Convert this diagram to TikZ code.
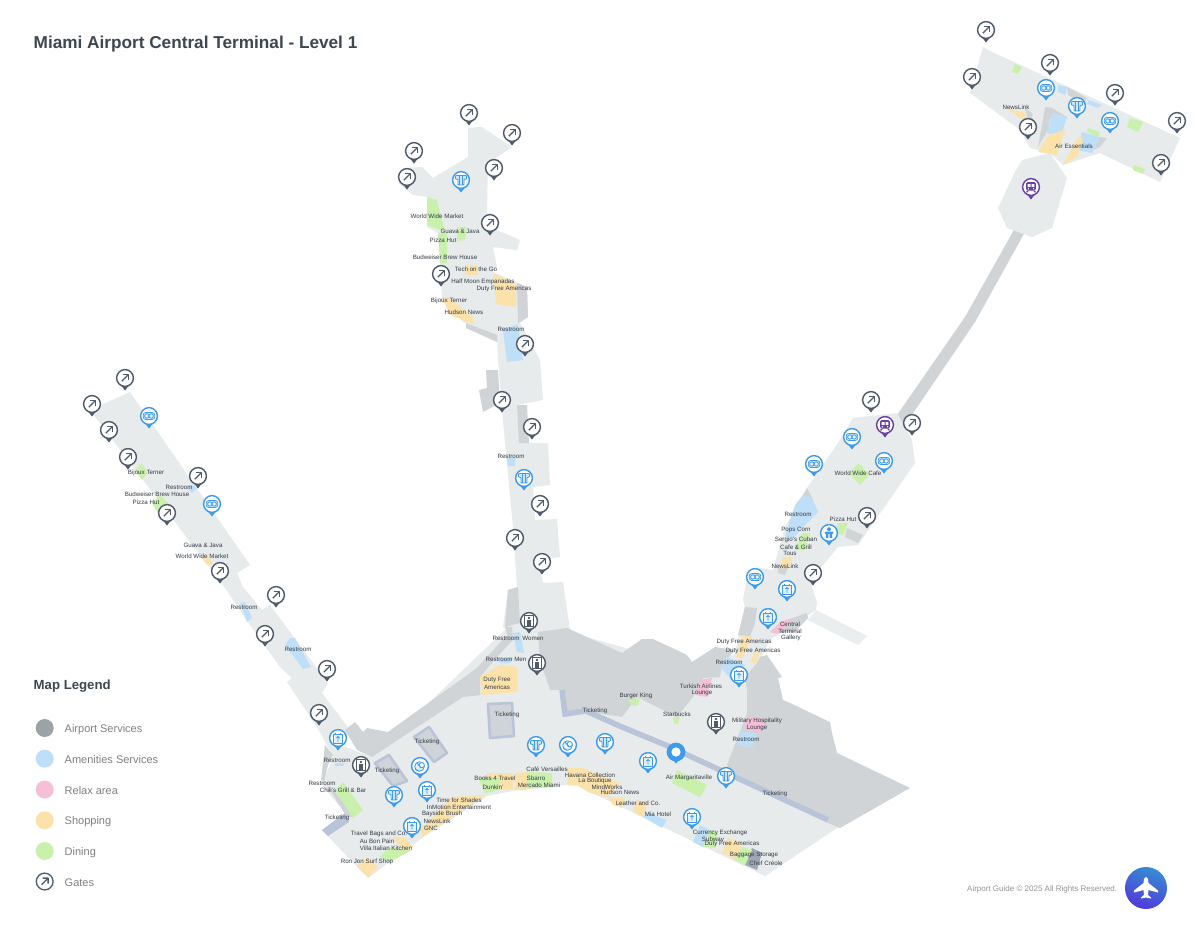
\documentclass[tikz,border=0pt]{standalone}
\usepackage{fontspec}
\setmainfont{Liberation Sans}
\definecolor{floorc}{HTML}{E7EBEC}
\definecolor{darkc}{HTML}{D0D4D6}
\definecolor{tickc}{HTML}{BAC4D9}
\definecolor{tickf}{HTML}{CFD4D8}
\definecolor{bluec}{HTML}{BFDFF8}
\definecolor{yelc}{HTML}{FBE2AB}
\definecolor{grnc}{HTML}{C9F1AC}
\definecolor{pnkc}{HTML}{F5BFD8}
\definecolor{gatec}{HTML}{4F5B6B}
\definecolor{pinb}{HTML}{3D9BE9}
\definecolor{pinp}{HTML}{6C3FA3}
\definecolor{txtc}{HTML}{333B43}
\definecolor{titlec}{HTML}{3E474F}
\definecolor{svcc}{HTML}{9BA3A7}
\tikzset{
  maplabel/.style={text=txtc,font=\fontsize{6.2}{7}\selectfont,inner sep=0pt,align=center},
  legendtxt/.style={text=black!50,font=\fontsize{11}{13}\selectfont,anchor=west,inner sep=0pt},
  floorp/.style={fill=floorc},
  darkp/.style={fill=darkc},
  bluep/.style={fill=bluec},
  yelp/.style={fill=yelc},
  grnp/.style={fill=grnc},
  pnkp/.style={fill=pnkc},
  tickbox/.style={fill=tickf,draw=tickc,line width=2.6pt,line join=round},
  pinhead/.style={fill=white,line width=1.4pt}
}
\newcounter{lb}
\newcommand\lab[3]{\stepcounter{lb}\node[maplabel] (lab\thelb) at (#1,#2) {#3};}
\newcommand\pinbase[3]{\fill[#3] (#1-4.6,#2+6.5) -- (#1,#2+12.5) -- (#1+4.6,#2+6.5) -- cycle;
  \draw[pinhead,draw=#3] (#1,#2) circle (8.4pt);}
\newcommand\gate[2]{\pinbase{#1}{#2}{gatec}
  \begin{scope}[shift={(#1,#2)},draw=gatec,line width=1.3pt]
  \draw (-3.2,3.2) -- (3.2,-3.2);
  \draw (-2,-3.4) -- (3.4,-3.4) -- (3.4,2);
  \end{scope}}
\newcommand\tee[2]{\pinbase{#1}{#2}{pinb}
  \begin{scope}[shift={(#1,#2)},draw=pinb,line width=.8pt]
  \draw[fill=pinb!25,rounded corners=.8pt] (-5.6,-4.6) -- (5.6,-4.6) -- (5.6,-.8) -- (3,-.8) -- (3,5) -- (-3,5) -- (-3,-.8) -- (-5.6,-.8) -- cycle;
  \draw (-1.2,-4.6) -- (-1.2,5) (1.2,-4.6) -- (1.2,5);
  \end{scope}}
\newcommand\bagbox[2]{\pinbase{#1}{#2}{pinb}
  \begin{scope}[shift={(#1,#2)},draw=pinb,line width=.8pt]
  \draw[fill=pinb!15] (-4.6,-3.2) rectangle (4.6,5);
  \draw (-2.4,-5) -- (-2.4,-3.2) (2.4,-5) -- (2.4,-3.2);
  \draw (0,3.6) -- (0,-1.6) (-1.6,0) -- (0,-1.6) -- (1.6,0);
  \end{scope}}
\newcommand\looppin[2]{\pinbase{#1}{#2}{pinb}
  \begin{scope}[shift={(#1,#2)},draw=pinb,line width=.8pt]
  \draw[fill=pinb!15,rounded corners=2.5pt] (-5.8,-3.4) rectangle (5.8,3.4);
  \draw (-2.2,0) circle (2.2pt) (2.2,0) circle (2.2pt);
  \end{scope}}
\newcommand\swirl[2]{\pinbase{#1}{#2}{pinb}
  \begin{scope}[shift={(#1,#2)},draw=pinb,line width=.8pt]
  \draw[fill=pinb!15] (-.5,.5) circle (4.8pt);
  \draw[fill=white] (1.8,-.8) circle (2.6pt);
  \draw (-5,3) -- (-1,5) (-3,-3) -- (1,2);
  \end{scope}}
\newcommand\baby[2]{\pinbase{#1}{#2}{pinb}
  \begin{scope}[shift={(#1,#2)}]
  \fill[pinb] (0,-3.8) circle (2pt);
  \fill[pinb,rounded corners=1pt] (-4.4,-1.4) rectangle (4.4,1);
  \fill[pinb] (-3,1) rectangle (-.6,5) (.6,1) rectangle (3,5);
  \end{scope}}
\newcommand\elev[2]{\pinbase{#1}{#2}{gatec}
  \begin{scope}[shift={(#1,#2)},draw=gatec,line width=.8pt]
  \draw (-4.6,-5.6) rectangle (4.6,5.6);
  \fill[gatec] (0,-3) circle (1.4pt);
  \fill[gatec] (-1.6,-1.2) rectangle (1.6,4.6);
  \end{scope}}
\newcommand\trainpin[2]{\pinbase{#1}{#2}{pinp}
  \begin{scope}[shift={(#1,#2)}]
  \fill[pinp,rounded corners=1.5pt] (-4.8,-5) rectangle (4.8,3.6);
  \fill[white] (-3.4,-3) rectangle (-.5,-.2) (.5,-3) rectangle (3.4,-.2);
  \fill[white] (-2.6,1.8) circle (.8pt) (2.6,1.8) circle (.8pt);
  \fill[pinp] (-4.2,3.6) -- (-2.2,3.6) -- (-3.4,5.4) -- (-5,5.4) -- cycle (4.2,3.6) -- (2.2,3.6) -- (3.4,5.4) -- (5,5.4) -- cycle;
  \end{scope}}
\begin{document}
\begin{tikzpicture}[x=1pt,y=-1pt,line join=round]
\useasboundingbox (0,0) rectangle (1200,927);
\fill[white] (0,0) rectangle (1200,927);
% ---------- bridge
\fill[darkc] (895,418) -- (965,317) -- (1015,228) -- (1025,232) -- (975,322) -- (905,425) -- cycle;
\fill[floorc!85!white] (816,610) -- (867,636) -- (858,645) -- (808,620) -- cycle;
% ---------- floors
\path[floorp] (90,410) -- (130,392) -- (250,565) -- (237,573) -- (243,587) -- (262,610) -- (270,605) -- (328,683) -- (322,693) -- (350,730) -- (335,760) -- (317,727) -- (287,682) -- (292,678) -- (280,667) -- (248,622) -- (225,588) -- cycle;
\path[floorp] (322,830) -- (345,813) -- (322,785) -- (333,757) -- (340,745) -- (372,757) -- (505,630) -- (568,632) -- (640,652) -- (690,662) -- (735,655) -- (760,660) -- (790,712) -- (835,745) -- (840,826) -- (765,876) -- (578,786) -- (567,785) -- (517,790) -- (487,796) -- (422,838) -- (368,878) -- cycle;
\path[floorp] (468,128) -- (482,127) -- (512,147) -- (488,163) -- (487,213) -- (490,227) -- (520,240) -- (517,250) -- (493,247) -- (497,267) -- (493,272) -- (527,287) -- (528,317) -- (520,323) -- (540,360) -- (543,400) -- (517,405) -- (525,443) -- (548,443) -- (550,485) -- (533,487) -- (535,520) -- (557,519) -- (560,557) -- (538,560) -- (543,583) -- (563,582) -- (570,630) -- (537,645) -- (503,627) -- (508,590) -- (517,587) -- (513,527) -- (502,410) -- (498,360) -- (497,336) -- (465,323) -- (442,300) -- (440,263) -- (438,233) -- (427,227) -- (427,197) -- (413,195) -- (398,183) -- (408,168) -- (422,167) -- (433,178) -- (468,157) -- cycle;
\path[floorp] (853,418) -- (897,413) -- (912,440) -- (915,463) -- (858,545) -- (838,547) -- (813,577) -- (812,588) -- (817,602) -- (816,610) -- (770,640) -- (760,660) -- (735,655) -- (738,637) -- (745,607) -- (743,600) -- (747,577) -- (760,568) -- (773,570) -- (785,527) -- (807,488) -- (840,440) -- cycle;
\path[floorp] (1022,160) -- (1050,153) -- (1067,178) -- (1052,228) -- (1032,237) -- (1007,228) -- (998,208) -- (1015,172) -- cycle;
\path[floorp] (983,47) -- (992,52) -- (1180,138) -- (1160,182) -- (1100,153) -- (1063,165) -- (1050,153) -- (1030,148) -- (1020,130) -- (970,93) -- cycle;
% ---------- dark
\path[darkp] (345,730) -- (355,722) -- (363,732) -- (367,728) -- (388,732) -- (477,668) -- (507,635) -- (505,627) -- (512,627) -- (513,640) -- (497,657) -- (480,677) -- (480,695) -- (463,697) -- (372,757) -- (357,750) -- cycle;
\path[darkp] (325,745) -- (333,755) -- (328,765) -- (324,782) -- (321,780) -- cycle;
\path[darkp] (327,785) -- (335,792) -- (355,817) -- (347,817) -- cycle;
\path[darkp] (538,632) -- (567,628) -- (622,653) -- (642,639) -- (653,639) -- (687,655) -- (692,662) -- (715,647) -- (735,650) -- (722,665) -- (720,677) -- (703,678) -- (693,697) -- (677,717) -- (637,697) -- (622,717) -- (590,712) -- (565,715) -- (560,690) -- (550,690) -- (540,660) -- cycle;
\path[darkp] (767,655) -- (782,677) -- (778,678) -- (783,700) -- (790,703) -- (830,722) -- (832,733) -- (837,753) -- (910,788) -- (840,828) -- (828,823) -- (733,777) -- (727,765) -- (747,713) -- (747,690) -- (745,677) -- (757,663) -- (760,657) -- cycle;
\path[darkp] (517,283) -- (527,287) -- (528,317) -- (518,323) -- cycle;
\path[darkp] (466,323) -- (497,335) -- (497,342) -- (466,328) -- cycle;
\path[darkp] (486,370) -- (498,370) -- (500,403) -- (483,412) -- (479,390) -- (487,388) -- cycle;
\path[darkp] (517,405) -- (527,405) -- (529,443) -- (519,443) -- cycle;
\path[darkp] (508,590) -- (518,587) -- (520,623) -- (505,627) -- cycle;
\path[darkp] (745,607) -- (757,608) -- (755,623) -- (750,637) -- (738,635) -- cycle;
\path[darkp] (792,618) -- (807,613) -- (808,618) -- (795,632) -- (780,633) -- cycle;
\path[darkp] (847,528) -- (863,535) -- (858,543) -- (845,537) -- cycle;
\path[darkp] (803,495) -- (807,488) -- (813,500) -- cycle;
\path[darkp] (778,568) -- (788,568) -- (785,575) -- (778,573) -- cycle;
\path[darkp] (1067,87) -- (1087,98) -- (1083,104) -- (1068,95) -- cycle;
\path[darkp] (1025,108) -- (1032,113) -- (1033,130) -- (1028,120) -- cycle;
\path[darkp] (1045,107) -- (1052,108) -- (1067,117) -- (1050,118) -- (1048,130) -- (1038,147) -- (1042,125) -- cycle;
\path[darkp] (1100,137) -- (1107,138) -- (1100,147) -- (1093,150) -- cycle;
% ---------- ticketing
\draw[tickbox] (488,704) -- (512,703) -- (514,736) -- (490,738) -- cycle;
\draw[tickbox] (414,737) -- (429,727) -- (447,753) -- (434,762) -- cycle;
\draw[tickbox] (375,763) -- (389,755) -- (407,781) -- (393,786) -- cycle;
\fill[tickc] (322,830) -- (345,813) -- (349,822) -- (328,836) -- cycle;
\draw[tickc,line width=5.5pt,line join=miter] (562,690) -- (565,714) -- (586,711) -- (622,727) -- (668,746) -- (733,776) -- (828,820);
\fill[tickc!85!black] (752,848) -- (762,853) -- (757,870) -- (745,865) -- cycle;
% ---------- blue
\path[bluep] (503,330) -- (518,324) -- (523,360) -- (507,362) -- cycle;
\path[bluep] (507,458) -- (515,458) -- (515,466) -- (508,466) -- cycle;
\path[bluep] (513,633) -- (520,632) -- (524,653) -- (517,652) -- cycle;
\path[bluep] (497,658) -- (513,658) -- (510,663) -- (500,663) -- cycle;
\path[bluep] (335,763) -- (345,763) -- (343,766) -- (335,766) -- cycle;
\path[bluep] (240,603) -- (245,602) -- (252,618) -- (247,622) -- cycle;
\path[bluep] (285,645) -- (290,638) -- (295,638) -- (311,667) -- (303,669) -- cycle;
\path[bluep] (192,485) -- (197,488) -- (192,493) -- (187,488) -- cycle;
\path[bluep] (720,667) -- (727,657) -- (745,665) -- (740,680) -- (732,680) -- cycle;
\path[bluep] (740,732) -- (757,733) -- (752,748) -- (737,745) -- cycle;
\path[bluep] (648,813) -- (667,820) -- (662,828) -- (643,817) -- cycle;
\path[bluep] (700,825) -- (710,830) -- (703,847) -- (693,842) -- cycle;
\path[bluep] (795,505) -- (803,495) -- (812,498) -- (818,512) -- (810,520) -- (793,538) -- (785,537) -- (790,520) -- cycle;
\path[bluep] (1058,85) -- (1067,87) -- (1065,95) -- (1058,92) -- cycle;
\path[bluep] (1088,100) -- (1102,105) -- (1098,108) -- (1087,104) -- cycle;
\path[bluep] (1052,113) -- (1067,117) -- (1060,138) -- (1047,133) -- cycle;
\path[bluep] (1082,132) -- (1100,137) -- (1092,153) -- (1077,150) -- cycle;
% ---------- yellow
\path[yelp] (465,265) -- (478,265) -- (477,275) -- (465,275) -- cycle;
\path[yelp] (493,273) -- (516,285) -- (516,307) -- (496,304) -- cycle;
\path[yelp] (442,297) -- (448,297) -- (473,317) -- (473,324) -- (450,315) -- cycle;
\path[yelp] (480,677) -- (500,665) -- (517,667) -- (517,692) -- (482,695) -- cycle;
\path[yelp] (487,773) -- (513,773) -- (513,789) -- (500,790) -- (500,777) -- (487,777) -- cycle;
\path[yelp] (515,773) -- (527,772) -- (527,790) -- (515,790) -- cycle;
\path[yelp] (567,768) -- (583,768) -- (620,783) -- (607,797) -- (590,793) -- (577,785) -- (568,785) -- cycle;
\path[yelp] (608,797) -- (625,798) -- (622,808) -- (613,805) -- cycle;
\path[yelp] (637,800) -- (648,802) -- (643,817) -- (633,812) -- cycle;
\path[yelp] (728,838) -- (742,843) -- (737,860) -- (722,853) -- cycle;
\path[yelp] (420,830) -- (452,797) -- (485,795) -- (422,837) -- cycle;
\path[yelp] (393,837) -- (405,838) -- (413,847) -- (403,852) -- cycle;
\path[yelp] (367,857) -- (378,867) -- (368,877) -- (357,867) -- cycle;
\path[yelp] (743,635) -- (752,637) -- (742,658) -- (736,657) -- cycle;
\path[yelp] (755,652) -- (760,652) -- (756,663) -- (750,662) -- cycle;
\path[yelp] (783,557) -- (793,557) -- (788,568) -- (780,568) -- cycle;
\path[yelp] (202,558) -- (207,555) -- (213,563) -- (207,565) -- cycle;
\path[yelp] (1007,108) -- (1025,113) -- (1027,120) -- (1018,117) -- cycle;
\path[yelp] (1048,135) -- (1065,130) -- (1057,155) -- (1038,152) -- cycle;
\path[yelp] (1078,137) -- (1083,138) -- (1077,157) -- (1063,165) -- cycle;
% ---------- green
\path[grnp] (427,197) -- (437,200) -- (445,232) -- (427,225) -- cycle;
\path[grnp] (438,233) -- (447,233) -- (447,263) -- (440,263) -- cycle;
\path[grnp] (457,227) -- (467,227) -- (465,240) -- (457,241) -- cycle;
\path[grnp] (478,777) -- (500,777) -- (500,790) -- (485,793) -- cycle;
\path[grnp] (527,772) -- (552,773) -- (552,787) -- (527,789) -- cycle;
\path[grnp] (335,790) -- (343,782) -- (363,810) -- (353,818) -- cycle;
\path[grnp] (380,857) -- (388,848) -- (412,850) -- (390,862) -- cycle;
\path[grnp] (628,700) -- (640,698) -- (638,705) -- (633,706) -- cycle;
\path[grnp] (673,717) -- (680,717) -- (678,724) -- (674,723) -- cycle;
\path[grnp] (677,770) -- (707,785) -- (700,797) -- (672,783) -- cycle;
\path[grnp] (710,830) -- (718,833) -- (715,848) -- (703,847) -- cycle;
\path[grnp] (742,847) -- (752,850) -- (745,865) -- (735,860) -- cycle;
\path[grnp] (802,533) -- (810,533) -- (805,550) -- (795,550) -- cycle;
\path[grnp] (837,523) -- (848,523) -- (843,535) -- (837,533) -- cycle;
\path[grnp] (859,463) -- (869,475) -- (860,485) -- (849,473) -- cycle;
\path[grnp] (142,463) -- (147,473) -- (142,480) -- (135,470) -- cycle;
\path[grnp] (160,495) -- (170,505) -- (158,513) -- (152,503) -- cycle;
\path[grnp] (1015,64) -- (1022,67) -- (1018,74) -- (1012,72) -- cycle;
\path[grnp] (1130,118) -- (1143,122) -- (1138,132) -- (1127,127) -- cycle;
\path[grnp] (1134,165) -- (1145,169) -- (1143,174) -- (1133,170) -- cycle;
\path[grnp] (1088,128) -- (1100,132) -- (1098,137) -- (1087,132) -- cycle;
% ---------- pink
\path[pnkp] (770,632) -- (780,622) -- (792,618) -- (785,628) -- (777,634) -- cycle;
\path[pnkp] (700,680) -- (712,678) -- (707,697) -- (695,695) -- cycle;
\path[pnkp] (747,717) -- (762,718) -- (765,728) -- (757,733) -- (745,728) -- cycle;
% ---------- title and legend
\node[anchor=west,inner sep=0pt,text=titlec,font=\bfseries\fontsize{17.2}{20}\selectfont] (title) at (33.5,44) {Miami Airport Central Terminal - Level 1};
\node[anchor=west,inner sep=0pt,text=titlec,font=\bfseries\fontsize{13.2}{15}\selectfont] (legendtitle) at (33.5,686) {Map Legend};
\fill[svcc] (44.7,728) circle (9pt);
\fill[bluec] (44.7,758.7) circle (9pt);
\fill[pnkc] (44.7,789.5) circle (9pt);
\fill[yelc] (44.7,820.3) circle (9pt);
\fill[grnc] (44.7,851) circle (9pt);
\draw[gatec,line width=1.3pt] (44.7,881.5) circle (8.4pt);
\draw[gatec,line width=1.3pt] (41.5,884.7) -- (47.9,878.3) (42.7,878.1) -- (48.1,878.1) -- (48.1,883.5);
\node[legendtxt] (lg1) at (64.5,729.5) {Airport Services};
\node[legendtxt] (lg2) at (64.5,760) {Amenities Services};
\node[legendtxt] (lg3) at (64.5,790.5) {Relax area};
\node[legendtxt] (lg4) at (64.5,821.5) {Shopping};
\node[legendtxt] (lg5) at (64.5,852.5) {Dining};
\node[legendtxt] (lg6) at (64.5,882.5) {Gates};
\node[anchor=west,inner sep=0pt,text=black!42,font=\fontsize{8}{9}\selectfont] (footer) at (967,889) {Airport Guide © 2025 All Rights Reserved.};
\shade[left color=pinb!90!black,right color=pinp!60!pnkc!50!blue,shading angle=-20] (1146,888) circle (21pt);
\fill[white] (1146,877) .. controls (1148,877) and (1148.5,880) .. (1148.5,883) -- (1158,890.5) -- (1158,892.5) -- (1148.5,890) -- (1148,895) -- (1151,897.5) -- (1151,898.5) -- (1146,897.5) -- (1141,898.5) -- (1141,897.5) -- (1144,895) -- (1143.5,890) -- (1134,892.5) -- (1134,890.5) -- (1143.5,883) .. controls (1143.5,880) and (1144,877) .. (1146,877) -- cycle;
% ---------- labels
\lab{506}{638}{Restroom}\lab{533}{638}{Women}\lab{506}{659}{Restroom Men}
\lab{497}{680}{Duty Free}\lab{497}{687}{Americas}
\lab{507}{715}{Ticketing}\lab{427}{742}{Ticketing}\lab{387}{771}{Ticketing}
\lab{337}{760}{Restroom}\lab{322}{783}{Restroom}\lab{343}{790}{Chili's Grill \& Bar}\lab{337}{818}{Ticketing}
\lab{459}{800}{Time for Shades}\lab{459}{807}{InMotion Entertainment}\lab{442}{814}{Bayside Brush}\lab{437}{821}{NewsLink}\lab{431}{828}{GNC}
\lab{379}{834}{Travel Bags and Co.}\lab{377}{841}{Au Bon Pain}\lab{386}{848}{Villa Italian Kitchen}\lab{367}{862}{Ron Jon Surf Shop}
\lab{495}{778}{Books 4 Travel}\lab{493}{787}{Dunkin'}\lab{547}{769}{Café Versailles}\lab{536}{778}{Sbarro}\lab{539}{785}{Mercado Miami}
\lab{590}{775}{Havana Collection}\lab{595}{781}{La Boutique}\lab{607}{787}{MindWorks}\lab{620}{792}{Hudson News}\lab{595}{711}{Ticketing}
\lab{638}{803}{Leather and Co.}\lab{658}{814}{Mia Hotel}\lab{689}{778}{Air Margaritaville}\lab{720}{833}{Currency Exchange}\lab{713}{840}{Subway}\lab{732}{844}{Duty Free Americas}
\lab{754}{855}{Baggage Storage}\lab{766}{863}{Chef Créole}\lab{775}{794}{Ticketing}\lab{746}{739}{Restroom}\lab{757}{721}{Military Hospitality}\lab{757}{728}{Lounge}
\lab{701}{686}{Turkish Airlines}\lab{702}{693}{Lounge}\lab{636}{696}{Burger King}\lab{677}{714}{Starbucks}\lab{729}{662}{Restroom}
\lab{744}{642}{Duty Free Americas}\lab{753}{651}{Duty Free Americas}\lab{790}{624}{Central}\lab{790}{631}{Terminal}\lab{791}{638}{Gallery}
\lab{437}{216}{World Wide Market}\lab{460}{231}{Guava \& Java}\lab{443}{240}{Pizza Hut}\lab{445}{257}{Budweiser Brew House}\lab{476}{269}{Tech on the Go}\lab{483}{282}{Half Moon Empanadas}\lab{504}{289}{Duty Free Americas}\lab{449}{301}{Bijoux Terner}\lab{464}{312}{Hudson News}\lab{511}{329}{Restroom}\lab{511}{456}{Restroom}
\lab{858}{473}{World Wide Cafe}\lab{798}{514}{Restroom}\lab{843}{519}{Pizza Hut}\lab{796}{530}{Pops Corn}\lab{796}{540}{Sergio's Cuban}\lab{796}{547}{Cafe \& Grill}\lab{790}{553}{Tous}\lab{785}{566}{NewsLink}
\lab{1016}{107}{NewsLink}\lab{1074}{146}{Air Essentials}
\lab{146}{473}{Bijoux Terner}\lab{179}{487}{Restroom}\lab{157}{494}{Budweiser Brew House}\lab{146}{502}{Pizza Hut}\lab{203}{545}{Guava \& Java}\lab{202}{556}{World Wide Market}\lab{244}{607}{Restroom}\lab{298}{649}{Restroom}
% ---------- pins
\gate{986}{30}\gate{1050}{63}\gate{972}{77}\gate{1115}{93}\gate{1177}{121}\gate{1161}{163}\gate{1028}{127}
\looppin{1046}{88}\looppin{1110}{121}\tee{1077}{106}\trainpin{1031}{187}
\gate{469}{113}\gate{512}{133}\gate{414}{151}\gate{407}{177}\gate{494}{168}\gate{490}{223}\gate{441}{274}\gate{525}{344}\tee{461}{180}
\gate{502}{400}\gate{532}{427}\gate{540}{504}\gate{515}{538}\gate{542}{562}\tee{524}{478}\elev{529}{621}
\gate{871}{400}\gate{912}{423}\gate{867}{516}\gate{813}{573}\trainpin{885}{425}
\looppin{852}{437}\looppin{814}{464}\looppin{884}{461}\looppin{755}{577}\baby{829}{533}\bagbox{787}{589}\bagbox{768}{617}
\gate{125}{378}\gate{92}{404}\gate{109}{430}\gate{128}{457}\gate{198}{476}\gate{167}{513}\gate{220}{571}\looppin{149}{416}\looppin{212}{504}
\gate{276}{595}\gate{265}{634}\gate{327}{669}\gate{319}{713}
\bagbox{338}{738}\elev{361}{765}\swirl{420}{766}\tee{394}{795}\bagbox{427}{790}\bagbox{412}{826}\elev{537}{663}\tee{536}{745}\swirl{568}{745}\tee{605}{742}
\bagbox{739}{675}\elev{716}{722}\bagbox{648}{761}\tee{726}{776}\bagbox{692}{817}
\fill[pinb] (671,757.5) -- (676,763.5) -- (681,757.5) -- cycle;
\fill[pinb] (676,752) circle (9.4pt);
\fill[white] (676,752) circle (4.6pt);
\end{tikzpicture}
\end{document}
